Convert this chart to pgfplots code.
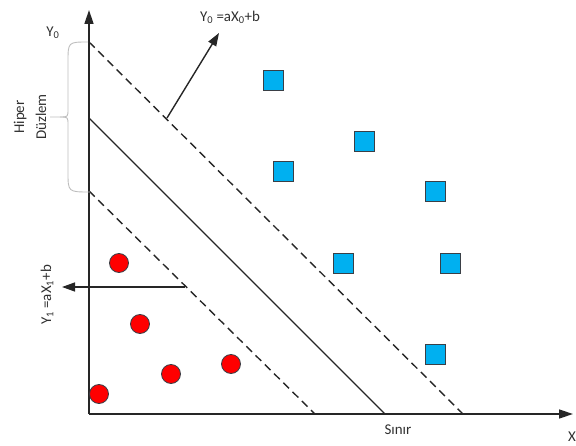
\documentclass[border=0pt]{standalone}
\usepackage{fontspec}
\setmainfont{Carlito}
\usepackage{pgfplots}
\pgfplotsset{compat=1.18}
\usetikzlibrary{arrows.meta}

\definecolor{sqblue}{HTML}{00B0F0}
\definecolor{edgegray}{HTML}{3A3F46}
\definecolor{txt}{HTML}{303030}
\definecolor{bracegray}{HTML}{BDBDBD}

\tikzset{lbl/.style={font=\fontsize{15}{18}\selectfont, text=txt, inner sep=0pt}}

\begin{document}
\begin{tikzpicture}
\useasboundingbox (0,0) rectangle (576bp,446bp);
\begin{axis}[
    at={(89bp,32bp)}, anchor=origin,
    x=1bp, y=1bp,
    xmin=0, xmax=484, ymin=0, ymax=404,
    axis lines=left,
    axis line style={line width=1.5bp, draw=black!85, -{Triangle[length=14bp,width=9bp]}},
    xtick=\empty, ytick=\empty,
    clip=false,
]
% hyperplane and margins
\addplot[black!85, line width=1.4bp, dash pattern=on 8bp off 5bp] coordinates {(0,372) (374,0)};
\addplot[black!85, line width=1.4bp] coordinates {(0,296) (296,0)};
\addplot[black!85, line width=1.4bp, dash pattern=on 8bp off 5bp] coordinates {(0,223) (226,0)};

% normal arrows
\addplot[black!85, line width=1.4bp, -{Triangle[length=13bp,width=9bp]}] coordinates {(78,296) (130,381)};
\addplot[black!85, line width=1.4bp, -{Triangle[length=13bp,width=9bp]}] coordinates {(96,127) (-27,127)};

% class 1: red circles
\addplot[only marks, mark=*, mark size=9.5bp, mark options={fill=red, draw=edgegray, line width=0.8bp}]
coordinates {(30,151) (51,90) (82,40) (142,50) (10,20)};

% class 2: blue squares
\addplot[only marks, mark=square*, mark size=10bp, mark options={fill=sqblue, draw=edgegray, line width=0.8bp}]
coordinates {(184,334) (275,273) (194,243) (346,223) (254,151) (361,151) (346,60)};

% brace
\draw[bracegray, line width=0.9bp]
  (axis cs:-1,372) .. controls (axis cs:-21,372) .. (axis cs:-21,352)
  -- (axis cs:-21,305) .. controls (axis cs:-21,297) .. (axis cs:-29,297)
  -- (axis cs:-39,297);
\draw[bracegray, line width=0.9bp]
  (axis cs:-29,297) .. controls (axis cs:-21,297) .. (axis cs:-21,289)
  -- (axis cs:-21,242) .. controls (axis cs:-21,222) .. (axis cs:1,222);

% labels
\node[lbl, rotate=90, align=center, font=\fontsize{15}{22}\selectfont] at (axis cs:-59,297) {Hiper\\Düzlem};
\node[lbl, rotate=90] at (axis cs:-42,119) {Y\textsubscript{1} =aX\textsubscript{1}+b};
\node[lbl] at (axis cs:141,397) {Y\textsubscript{0} =aX\textsubscript{0}+b};
\node[lbl] at (axis cs:-36,381) {Y\textsubscript{0}};
\node[lbl] at (axis cs:309,-16) {Sınır};
\node[lbl] at (axis cs:483,-23) {X};
\end{axis}
\end{tikzpicture}
\end{document}
